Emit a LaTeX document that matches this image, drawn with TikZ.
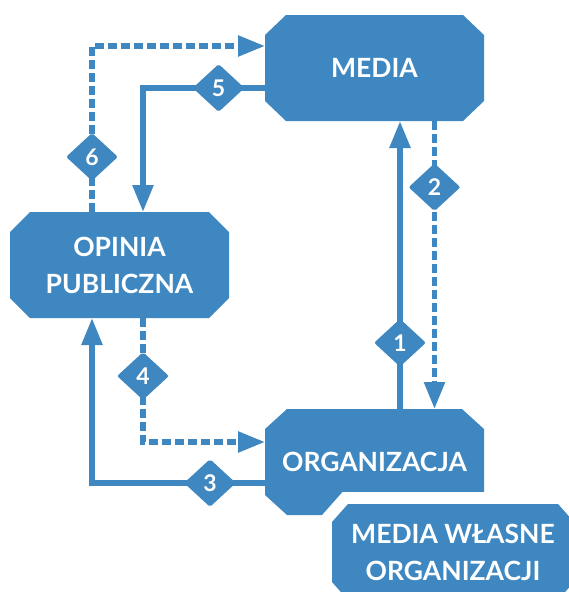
\documentclass[tikz,border=0pt]{standalone}
\usepackage{fontspec}
\setmainfont{Lato}
\usetikzlibrary{arrows.meta, shapes.geometric}
\definecolor{mblue}{RGB}{62,135,192}
\pgfdeclarelayer{background}
\pgfsetlayers{background,main}
% octagon round a node: node, cut x, cut y, path options
\newcommand{\octfill}[4]{\path[#4] ([xshift=#2]#1.north west) -- ([xshift=-#2]#1.north east)
  -- ([yshift=-#3]#1.north east) -- ([yshift=#3]#1.south east) -- ([xshift=-#2]#1.south east)
  -- ([xshift=#2]#1.south west) -- ([yshift=#3]#1.south west) -- ([yshift=-#3]#1.north west) -- cycle;}

\begin{document}
\begin{tikzpicture}[x=1pt, y=-1pt] \tikzset{>={Triangle[width=20pt,length=27pt]},
  box/.style={rectangle, text=white, font=\bfseries\fontsize{26.5}{37}\selectfont, align=center,
    minimum width=219pt, minimum height=106pt, inner sep=0pt, outer sep=0pt},
  num/.style={diamond, fill=mblue, text=white, font=\bfseries\fontsize{23}{23}\selectfont,
    minimum width=54pt, minimum height=50pt, inner sep=0pt, rounded corners=2pt},
  link/.style={mblue, line width=5.5pt, ->},
  dashlink/.style={link, dash pattern=on 9pt off 4pt}}
\useasboundingbox (0,0) rectangle (569,592);
\node[box] (media) at (374.5,68) {MEDIA};
\node[box] (opinia) at (119.5,265) {OPINIA\\PUBLICZNA};
\node[box] (org) at (374.5,462) {ORGANIZACJA};
\node[box, minimum width=242pt, minimum height=96pt] (own) at (453,552) {MEDIA WŁASNE\\ORGANIZACJI};
\begin{pgfonlayer}{background}
\octfill{media}{21pt}{20pt}{fill=mblue}
\octfill{opinia}{20pt}{20pt}{fill=mblue}
\octfill{org}{22pt}{20pt}{fill=mblue}
\octfill{own}{16pt}{18pt}{draw=white, line width=24pt}
\octfill{own}{16pt}{18pt}{fill=mblue}
\end{pgfonlayer}
% organizacja <-> media
\draw [link] ([xshift=25.5pt]org.north) -- ([xshift=25.5pt]media.south) node [num, pos=0.23] (n1) {1};
\draw [dashlink] ([xshift=60pt]media.south) -- ([xshift=60pt]org.north) node [num, pos=0.23] (n2) {2};
% organizacja <-> opinia
\draw [link] ([yshift=-21pt]org.west) -| ([xshift=-27.5pt]opinia.south) node [num, pos=0.159] (n3) {3};
\draw [dashlink] ([xshift=23.5pt]opinia.south) |- ([yshift=20pt]org.west) node [num, pos=0.234] (n4) {4};
% media <-> opinia
\draw [link] ([yshift=-20pt]media.west) -| ([xshift=23.5pt]opinia.north) node [num, pos=0.19] (n5) {5};
\draw [dashlink] ([xshift=-27.5pt]opinia.north) |- ([yshift=22pt]media.west) node [num, pos=0.166] (n6) {6};
\end{tikzpicture}
\end{document}
